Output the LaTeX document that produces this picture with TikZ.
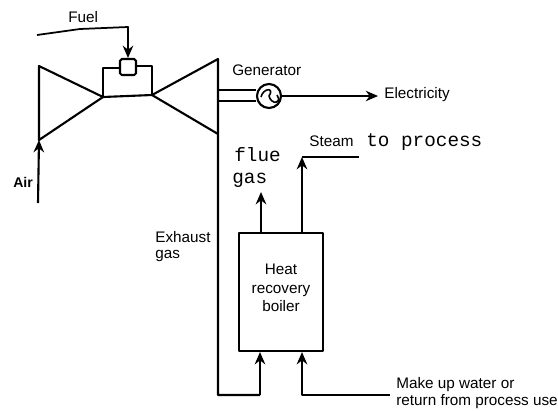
\documentclass[tikz,border=0pt]{standalone}
\usepackage{fontspec}
\setmainfont{Liberation Sans}
\setmonofont{Liberation Mono}
\usetikzlibrary{
  arrows.meta,
}
\tikzset{
  label/.style={inner sep=0pt, font=\fontsize{8.7}{10}\selectfont},
  typed/.style={inner sep=0pt, font=\fontsize{11}{13}\ttfamily},
  pipe/.style={line width=1.2pt},
  flow/.style={pipe, -{Stealth[length=7pt,width=6pt]}},
}

\begin{document}
\begin{tikzpicture}[x=0.02cm, y=-0.02cm, line join=round]
\useasboundingbox (0,0) rectangle (558,410);
\coordinate (ctl) at (39,66);
\coordinate (cbl) at (39,140);
\coordinate (cin) at (103,97);
\coordinate (tin) at (152,95);
\coordinate (ttr) at (218,59);
\coordinate (tbr) at (218,134);
\coordinate (stack) at (218,395);
\coordinate (hook) at (260,395);
\coordinate (fuelstart) at (37,35);
\coordinate (fuelmid) at (80,29);
\coordinate (fuelbend) at (128,27);
\coordinate (airstart) at (38,203);
\coordinate (steambend) at (302,157);
\coordinate (steamend) at (359,157);
\coordinate (flueend) at (261,192);
\coordinate (waterstart) at (390,395);
\coordinate (waterbend) at (302,395);
\coordinate (elecend) at (378,96);

\node[draw, pipe, rounded corners=1pt, minimum width=0.02cm*16, minimum height=0.02cm*16, inner sep=0pt] (burner) at (128,67) {};
\node[draw, pipe, circle, minimum size=0.02cm*24, inner sep=0pt] (generator) at (269,96) {};
\draw[pipe, line width=0.9pt] (generator.center) ++(-8,1) .. controls +(2,-9) and +(6,-9) .. ++(8,-1) .. controls +(2,9) and +(6,9) .. ++(8,-1);
\node[draw, pipe, minimum width=0.02cm*84, minimum height=0.02cm*118, inner sep=0pt] (boiler) at (281,292) {};

\draw[pipe] (cbl) -- (ctl) -- (cin) -- cycle;
\draw[pipe] (cin) -- (tin);
\draw[pipe] (cin) |- (burner.west |- 0,68) (burner.east |- 0,66) -| (tin);
\draw[pipe] (tin) -- (ttr) -- (stack) -- (hook);
\draw[pipe] (tin) -- (tbr);
\foreach \k in {90,101} {
  \draw[pipe, line width=1pt] (218,\k) -- (generator.west |- 0,\k);
}
\draw[flow, line width=1pt] (fuelstart) -- (fuelmid) -- (fuelbend) -- (burner.north);
\draw[flow] (airstart) -- (cbl);
\draw[flow] (hook) -- (hook |- boiler.south);
\draw[flow] (waterstart) -- (waterbend) -- (waterbend |- boiler.south);
\draw[flow, line width=1.6pt] (waterbend |- boiler.north) -- (steambend);
\draw[pipe, line width=1pt] (steambend) -- (steamend);
\draw[flow] (flueend |- boiler.north) -- (flueend);
\draw[-{Stealth[length=7pt,width=6pt]}, line width=0.7pt] (generator.east) -- (elecend);

\node[label, anchor=west] (fuellabel) at (68,17) {Fuel};
\node[label, anchor=west, font=\fontsize{8}{9.5}\selectfont\bfseries] (airlabel) at (13,182) {Air};
\node[label, anchor=west] (generatorlabel) at (232,70) {Generator};
\node[label, anchor=west] (electricitylabel) at (384,95) {Electricity};
\node[label, anchor=west] (steamlabel) at (309,141) {Steam};
\node[typed, anchor=west] (processlabel) at (366,142) {to process};
\node[typed, anchor=west] (fluelabel) at (234,155) {flue};
\node[typed, anchor=west] (gaslabel) at (232,180) {gas};
\node[label, anchor=west] (exhaustlabel) at (155,237) {Exhaust};
\node[label, anchor=west] (exhaustgaslabel) at (155,256) {gas};
\node[label, align=center, font=\fontsize{8.7}{10}\selectfont] (boilerlabel) at (boiler.center |- 0,288) {Heat\\[0.4pt]recovery\\[0.4pt]boiler};
\node[label, anchor=west, align=left, font=\fontsize{8.7}{10}\selectfont] (waterlabel) at (396,393) {Make up water or\\return from process use};
\end{tikzpicture}
\end{document}
